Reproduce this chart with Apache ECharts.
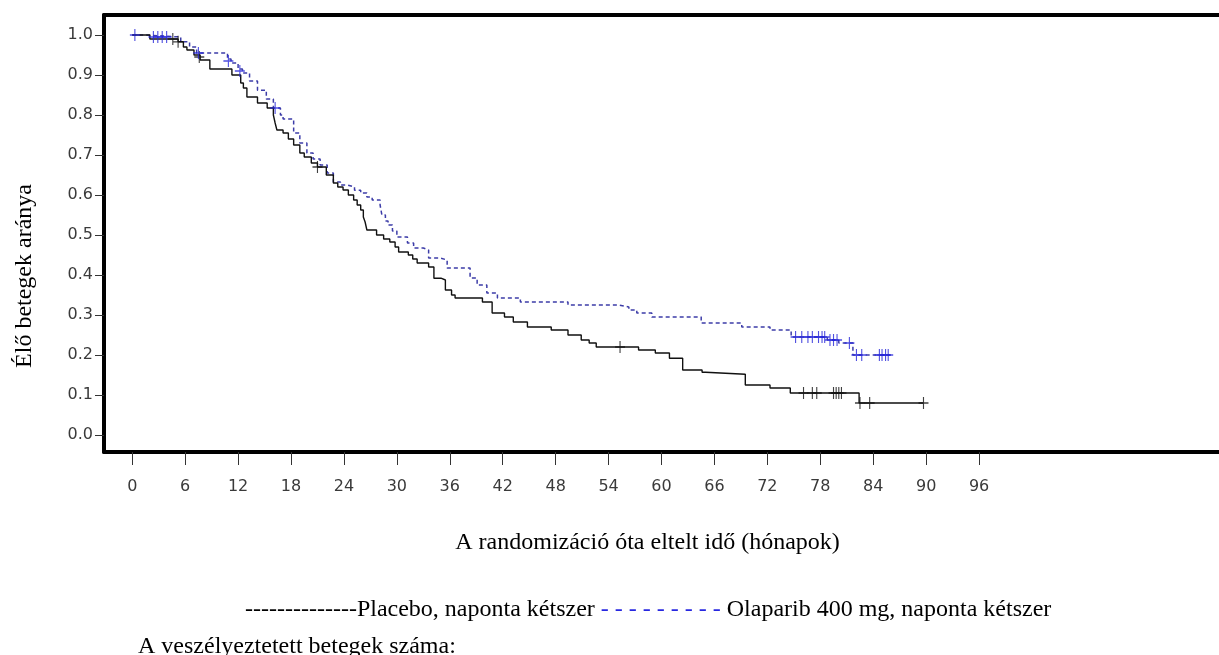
<!DOCTYPE html>
<html lang="hu">
<head>
    <meta charset="UTF-8">
    <title>Élő betegek aránya</title>
</head>
<style>
    * {
        margin: 0;
        padding: 0;
    }

    html, body {
        width: 1219px;
        height: 655px;
        background: #fff;
        overflow: hidden;
    }

    #chart {
        width: 1219px;
        height: 655px;
    }
</style>
<script src="https://cdn.jsdelivr.net/npm/echarts@6/dist/echarts.min.js"></script>
<body>
<div id="chart"></div>
</body>
<script>
  // Placebo (black, solid) - step points: month, survival after the drop
  const placeboT = [0, 2.0, 5.2, 5.8, 6.2, 7.0, 7.7, 8.8, 11.3, 12.3, 12.6, 13.0, 14.2, 15.3, 16.0, 16.2, 16.4, 17.1, 17.7, 18.3,
    19.0, 19.5, 20.3, 21.0, 22.0, 22.8, 23.3, 23.9, 24.5, 25.1, 25.5, 25.9, 26.2, 26.4, 26.6, 27.7, 28.5, 29.2, 29.8, 30.2,
    31.3, 31.8, 32.3, 33.6, 34.2, 35.0, 35.5, 36.2, 36.6, 39.7, 40.8, 42.2, 43.2, 44.8, 47.5, 49.4, 50.9, 51.8, 52.6, 57.4,
    59.3, 60.9, 62.4, 64.6, 65.0, 69.5, 72.3, 74.6, 82.4, 89.7]
  const placeboS = [1.0, 0.99, 0.983, 0.97, 0.9625, 0.95, 0.9375, 0.915, 0.9, 0.88, 0.8675, 0.845, 0.83, 0.8175, 0.8, 0.78, 0.7625, 0.755, 0.74, 0.725,
    0.705, 0.695, 0.68, 0.67, 0.65, 0.63, 0.62, 0.6125, 0.6, 0.5875, 0.575, 0.5625, 0.545, 0.5325, 0.5125, 0.5, 0.49, 0.4825, 0.47, 0.4575,
    0.45, 0.44, 0.43, 0.42, 0.392, 0.3875, 0.3625, 0.35, 0.3425, 0.3325, 0.305, 0.295, 0.2825, 0.27, 0.2625, 0.25, 0.2375, 0.23, 0.22, 0.2125,
    0.205, 0.192, 0.1625, 0.157, 0.152, 0.125, 0.1175, 0.105, 0.08, 0.08]

  // Olaparib (blue, dashed)
  const olaparibT = [0, 1.5, 5.5, 6.5, 7.3, 10.8, 11.2, 12.0, 12.5, 13.3, 14.2, 15.2, 16.0, 16.8, 17.1, 18.3, 19.0, 19.8, 20.5, 21.3,
    22.1, 22.8, 23.6, 24.4, 25.2, 25.9, 26.6, 27.2, 28.1, 28.3, 28.7, 29.0, 29.5, 30.0, 31.2, 31.9, 33.0, 33.6, 34.9, 35.7,
    38.3, 39.1, 40.2, 41.4, 44.0, 49.4, 55.1, 56.3, 57.2, 58.9, 64.5, 69.1, 72.3, 74.7, 78.8, 80.1, 81.7, 86.2]
  const olaparibS = [1.0, 0.995, 0.983, 0.97, 0.955, 0.94, 0.93, 0.915, 0.905, 0.885, 0.862, 0.84, 0.8175, 0.8, 0.79, 0.755, 0.73, 0.705, 0.69, 0.675,
    0.655, 0.6325, 0.625, 0.62, 0.612, 0.605, 0.595, 0.5875, 0.575, 0.55, 0.535, 0.525, 0.51, 0.495, 0.48, 0.4675, 0.4625, 0.4425, 0.4375, 0.4175,
    0.3925, 0.375, 0.355, 0.3425, 0.3325, 0.325, 0.32, 0.3125, 0.305, 0.295, 0.28, 0.27, 0.2625, 0.245, 0.2375, 0.23, 0.2, 0.2]

  // censored observations (+)
  const placeboCensorT = [4.6, 5.2, 7.6, 21.0, 55.3, 76.1, 77.1, 77.6, 79.5, 79.8, 80.1, 80.4, 82.5, 83.6, 89.7]
  const placeboCensorS = [0.99, 0.983, 0.945, 0.67, 0.22, 0.105, 0.105, 0.105, 0.105, 0.105, 0.105, 0.105, 0.08, 0.08, 0.08]
  const olaparibCensorT = [0.3, 2.4, 2.9, 3.4, 3.9, 7.5, 10.9, 12.2, 16.2, 75.2, 75.9, 76.6, 77.1, 77.8, 78.2, 78.5,
    79.1, 79.5, 79.9, 81.3, 82.1, 82.7, 84.7, 85.0, 85.4, 85.7]
  const olaparibCensorS = [1.0, 0.995, 0.995, 0.995, 0.995, 0.955, 0.935, 0.91, 0.8175, 0.245, 0.245, 0.245, 0.245, 0.245, 0.245, 0.245,
    0.2375, 0.2375, 0.2375, 0.23, 0.2, 0.2, 0.2, 0.2, 0.2, 0.2]

  const xTickValues = [0, 6, 12, 18, 24, 30, 36, 42, 48, 54, 60, 66, 72, 78, 84, 90, 96]
  const yTickValues = [0.0, 0.1, 0.2, 0.3, 0.4, 0.5, 0.6, 0.7, 0.8, 0.9, 1.0]

  const xTitle = 'A randomizáció óta eltelt idő (hónapok)'
  const yTitle = 'Élő betegek aránya'
  const legendPlacebo = '--------------Placebo, naponta kétszer'
  const legendDashes = '- - - - - - - - -'
  const legendOlaparib = 'Olaparib 400 mg, naponta kétszer'
  const atRiskTitle = 'A veszélyeztetett betegek száma:'
</script>
<script>
  const pair = (ts, ss) => ts.map((t, i) => [t, ss[i]])
  const plus = 'path://M4,0L5,0L5,4L9,4L9,5L5,5L5,9L4,9L4,5L0,5L0,4L4,4Z'
  const serif = '"Liberation Serif", "Times New Roman", serif'
  const tickFont = {fontFamily: '"DejaVu Sans", sans-serif', fontSize: 16, color: '#3a3a3a'}
  const frame = {show: true, onZero: false, lineStyle: {color: '#000', width: 4}}
  const xMin = -3.2
  const xMax = 123.2

  const chart = echarts.init(document.getElementById('chart'))

  chart.setOption({
    animation: false,
    grid: {
      left: 104,
      top: 15,
      right: 0,
      bottom: 203
    },
    xAxis: [
      {
        type: 'value',
        position: 'bottom',
        min: xMin,
        max: xMax,
        axisLine: frame,
        splitLine: {show: false},
        axisTick: {customValues: xTickValues, length: 13, lineStyle: {color: '#333'}},
        axisLabel: Object.assign({customValues: xTickValues, margin: 27}, tickFont),
        name: xTitle,
        nameLocation: 'middle',
        nameGap: 79,
        nameTextStyle: {fontFamily: serif, fontSize: 24, color: '#000', padding: [0, 28, 0, 0]}
      },
      {
        type: 'value',
        position: 'top',
        min: xMin,
        max: xMax,
        axisLine: frame,
        axisTick: {show: false},
        axisLabel: {show: false},
        splitLine: {show: false}
      }
    ],
    yAxis: {
      type: 'value',
      min: -0.0425,
      max: 1.05,
      axisLine: frame,
      splitLine: {show: false},
      axisTick: {customValues: yTickValues, length: 9, lineStyle: {color: '#333'}},
      axisLabel: Object.assign({
        customValues: yTickValues,
        margin: 11,
        formatter: v => v.toFixed(1)
      }, tickFont)
    },
    graphic: [
      {
        type: 'text', x: 25, y: 276, rotation: Math.PI / 2,
        style: {text: yTitle, fontFamily: serif, fontSize: 24, fill: '#000', align: 'center', verticalAlign: 'middle'}
      },
      {
        type: 'text', x: 245, y: 610,
        style: {
          text: '{a|' + legendPlacebo + '\u00a0}{b|' + legendDashes + '}{a|\u00a0' + legendOlaparib + '}',
          verticalAlign: 'middle',
          rich: {
            a: {fontFamily: serif, fontSize: 24, fill: '#000', color: '#000'},
            b: {fontFamily: serif, fontSize: 24, fill: '#2727e0', color: '#2727e0'}
          }
        }
      },
      {
        type: 'text', x: 138, y: 647,
        style: {text: atRiskTitle, fontFamily: serif, fontSize: 24, fill: '#000', verticalAlign: 'middle'}
      }
    ],
    series: [
      {
        name: 'Placebo',
        type: 'line',
        step: 'end',
        showSymbol: false,
        lineStyle: {color: '#111', width: 1.4},
        data: pair(placeboT, placeboS),
        z: 3
      },
      {
        name: 'Olaparib',
        type: 'line',
        step: 'end',
        showSymbol: false,
        lineStyle: {color: '#3c3ca8', width: 1.5, type: [4, 3]},
        data: pair(olaparibT, olaparibS),
        z: 2
      },
      {
        type: 'scatter',
        symbol: plus,
        symbolSize: [10, 12],
        itemStyle: {color: '#111'},
        data: pair(placeboCensorT, placeboCensorS),
        z: 4
      },
      {
        type: 'scatter',
        symbol: plus,
        symbolSize: [10, 12],
        itemStyle: {color: '#2424d8'},
        data: pair(olaparibCensorT, olaparibCensorS),
        z: 4
      }
    ]
  })
</script>
</html>
